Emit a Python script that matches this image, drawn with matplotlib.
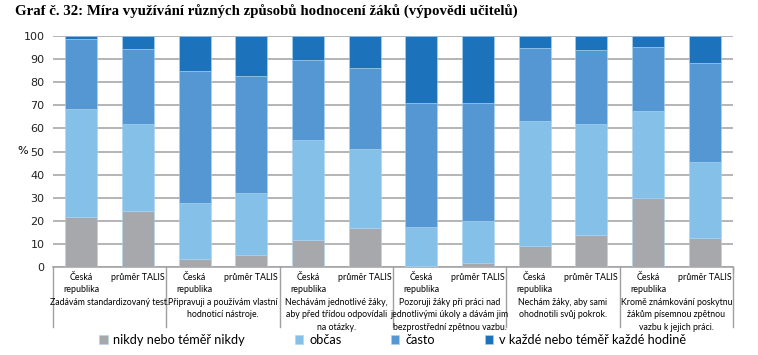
import numpy as np
import matplotlib
matplotlib.use("Agg")
import matplotlib.pyplot as plt

# data (percent, cumulative tops converted to segment sizes)
groups = [
    "Zadávám standardizovaný test.",
    "Připravuji a používám vlastní\nhodnoticí nástroje.",
    "Nechávám jednotlivé žáky,\naby před třídou odpovídali\nna otázky.",
    "Pozoruji žáky při práci nad\njednotlivými úkoly a dávám jim\nbezprostřední zpětnou vazbu.",
    "Nechám žáky, aby sami\nohodnotili svůj pokrok.",
    "Kromě známkování poskytnu\nžákům písemnou zpětnou\nvazbu k jejich práci.",
]
bar_labels = ["Česká\nrepublika", "průměr TALIS"] * 6

nikdy = [21.5, 24.4, 3.6, 5.3, 11.8, 16.7, 0.6, 1.6, 8.9, 13.7, 29.8, 12.7]
obcas = [46.9, 37.4, 24.1, 26.7, 43.1, 34.3, 16.8, 18.4, 54.4, 48.1, 37.8, 32.7]
casto = [30.3, 32.6, 57.2, 50.7, 34.9, 35.2, 53.6, 51.0, 31.5, 32.1, 27.6, 42.9]
kazde = [1.3, 5.6, 15.1, 17.3, 10.2, 13.8, 29.0, 29.0, 5.2, 6.1, 4.8, 11.7]

series = ["nikdy nebo téměř nikdy", "občas", "často", "v každé nebo téměř každé hodině"]
colors = ["#A7A8AB", "#84C0E8", "#5497D3", "#1D72BC"]

fig = plt.figure(figsize=(7.58, 3.55), dpi=100)
ax = fig.add_axes([53 / 758, 1 - 267 / 355, 680 / 758, 231 / 355])

x = np.arange(len(nikdy))
bottom = np.zeros(len(x))
handles = []
for vals, col, name in zip([nikdy, obcas, casto, kazde], colors, series):
    b = ax.bar(x, vals, 0.57, bottom=bottom, color=col, label=name,
               edgecolor="#A9D3F0", linewidth=0.4, zorder=3)
    handles.append(b)
    bottom += np.array(vals)

ax.set_xlim(-0.5, len(x) - 0.5)
ax.set_ylim(0, 100)
ax.set_yticks(range(0, 101, 10))
ax.yaxis.grid(True, color="#A0A0A4", linewidth=1.1, zorder=0)
ax.tick_params(axis="y", length=0, labelsize=8, pad=6, colors="#222222")
ax.set_xticks([])
for s in ["left", "right", "top"]:
    ax.spines[s].set_visible(False)
ax.spines["bottom"].set_color("#A0A0A4")
ax.spines["bottom"].set_linewidth(1.1)
ax.set_ylabel("%", rotation=0, fontsize=8, va="center", ha="right")
ax.yaxis.set_label_coords(-25 / 680, 0.5)

# group separators extending into the label area
tr = ax.get_xaxis_transform()
for gx in np.arange(-0.5, len(x), 2):
    ax.plot([gx, gx], [0, -0.26], transform=tr, color="#A0A0A4",
            linewidth=1, clip_on=False)
ax.plot([len(x) - 0.5] * 2, [0, -0.02], transform=tr, color="#A0A0A4",
        linewidth=1, clip_on=False)

lbl_font = ["Lato", "DejaVu Sans"]
for i, lab in enumerate(bar_labels):
    ax.text(i, -0.025, lab, transform=tr, ha="center", va="top",
            fontsize=6.4, family=lbl_font, linespacing=1.5)
for g, txt in enumerate(groups):
    ax.text(2 * g + 0.5, -0.133, txt, transform=tr, ha="center", va="top",
            fontsize=6.3, family=lbl_font, linespacing=1.5)

fig.text(15 / 758, 1 - 12 / 355,
         "Graf č. 32: Míra využívání různých způsobů hodnocení žáků (výpovědi učitelů)",
         family=["Liberation Serif", "DejaVu Serif"], fontweight="bold",
         fontsize=10.7, ha="left", va="center")

fig.legend(handles=handles, loc="center left", bbox_to_anchor=(93 / 758, 1 - 340 / 355),
           ncol=4, frameon=False, handlelength=0.65, handleheight=0.65,
           handletextpad=0.45, columnspacing=3.9, borderpad=0,
           prop={"family": lbl_font, "size": 9.2})

fig.savefig("out.png", dpi=100)
